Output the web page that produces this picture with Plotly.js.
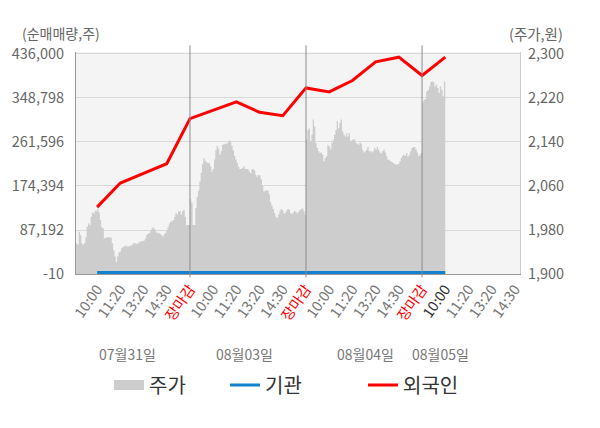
<!DOCTYPE html>
<html>
<head>
<meta charset="utf-8">
<script src="https://cdn.plot.ly/plotly-3.0.1.min.js"></script>
<style>
html,body{margin:0;padding:0;background:#fff;}
#chart{width:600px;height:428px;}
</style>
</head>
<body>
<div id="chart"></div>
<script>
// ---- data ----
const tickLabels = ['10:00','11:20','13:20','14:30','장마감',
                    '10:00','11:20','13:20','14:30','장마감',
                    '10:00','11:20','13:20','14:30','장마감',
                    '10:00','11:20','13:20','14:30'];
const dateLabels = ['07월31일','08월03일','08월04일','08월05일'];

// 주가 (price, won) intraday samples, one array per day
const priceDay1 = [1956,1953,1977,1971,1956,1953,1956,1967,1986,1992,1989,2004,2012,2010,2015,2014,2018,2012,1998,1985,
                   1983,1965,1966,1967,1967,1967,1966,1956,1943,1932,1922,1932,1939,1941,1947,1949,1950,1952,1950,1950,
                   1951,1952,1953,1956,1956,1955,1955,1957,1959,1959,1960,1961,1965,1971,1973,1975,1979,1983,1985,1981,
                   1977,1974,1975,1973,1971,1968,1972,1974,1978,1985,1992,1995,1996,1998,2004,2011,2008,2014,2014,2008,
                   2014,2017,2004,1989,1989,1989];
const priceDay2 = [2036,2029,1989,1989,2020,2040,2052,2068,2084,2100,2110,2106,2103,2102,2102,2096,2086,2091,2108,2125,
                   2133,2128,2117,2123,2135,2136,2137,2137,2139,2143,2141,2133,2125,2115,2108,2102,2095,2091,2091,2093,
                   2096,2091,2091,2091,2087,2083,2090,2091,2088,2080,2077,2080,2079,2072,2060,2050,2052,2052,2052,2045,
                   2030,2024,2018,2011,2004,2002,2008,2014,2018,2016,2010,2011,2015,2018,2017,2011,2009,2012,2015,2013,
                   2010,2013,2016,2018,2019,2014,2008];
const priceDay3 = [2144,2162,2165,2141,2153,2181,2168,2138,2129,2123,2120,2121,2117,2105,2111,2114,2135,2132,2127,2138,
                   2144,2153,2162,2178,2165,2175,2181,2159,2153,2150,2156,2150,2156,2141,2143,2145,2144,2138,2137,2135,
                   2139,2137,2126,2121,2123,2126,2131,2123,2123,2121,2123,2129,2126,2131,2126,2121,2119,2123,2126,2121,
                   2114,2108,2107,2105,2103,2102,2100,2099,2099,2100,2105,2111,2115,2117,2115,2120,2113,2117,2123,2129,
                   2131,2131,2127,2121,2114,2117,2120];
const priceDay4 = [2212,2216,2218,2232,2234,2241,2249,2250,2249,2241,2244,2238,2229,2241,2235,2223,2250];

// 외국인 / 기관 cumulative net buying (shares) at each tick
const foreign = [132500,180200,199200,218500,307900,
                 323800,341000,320400,313800,368800,
                 360900,383400,420500,429700,393300,
                 429700];
const inst = [2800,2800,2800,2800,2800,2800,2800,2800,2800,2800,2800,2800,2800,2800,2800,2800];

// axis ticks
const volTicks = [-10, 87192, 174394, 261596, 348798, 436000];
const priceTicks = [1900, 1980, 2060, 2140, 2220, 2300];

// ---- build ----
const dayStarts = [-0.91, 4, 9, 14];
const dayEnds   = [4, 9, 14, 15];
const priceDays = [priceDay1, priceDay2, priceDay3, priceDay4];
const px = [], py = [];
priceDays.forEach((arr, d) => {
  const span = dayEnds[d] - dayStarts[d];
  arr.forEach((v, i) => {
    px.push(dayStarts[d] + span * i / arr.length);
    py.push(v);
  });
  px.push(dayEnds[d]);
  py.push(arr[arr.length - 1]);
});
const tickIdx = tickLabels.map((_, i) => i);
const seriesX = foreign.map((_, i) => i);
const fmt = v => v.toLocaleString('en-US');

const ticktext = tickLabels.map((t, i) => {
  if (t === '장마감') return '<span style="color:#ff0000">' + t + '</span>';
  if (i === 15) return '<span style="color:#333333">' + t + '</span>';
  return t;
});

const FONT = '"Noto Sans CJK KR", "Noto Sans", sans-serif';

const traces = [
  { x: px, y: py, yaxis: 'y', type: 'scatter', mode: 'lines',
    line: { width: 0, shape: 'hv', color: '#cdcdcd' }, fill: 'tozeroy', fillcolor: '#cdcdcd',
    showlegend: false, hoverinfo: 'skip' },
  { x: [null], y: [null], yaxis: 'y2', type: 'scatter', mode: 'lines', name: '주가', legend: 'legend',
    line: { color: '#cdcdcd', width: 15 } },
  { x: seriesX, y: inst, yaxis: 'y2', type: 'scatter', mode: 'lines', name: '기관', legend: 'legend2',
    line: { color: '#1380d0', width: 3 } },
  { x: seriesX, y: foreign, yaxis: 'y2', type: 'scatter', mode: 'lines', name: '외국인', legend: 'legend3',
    line: { color: '#ff0000', width: 3 } }
];

const shapes = [4, 9, 14].map(v => ({
  type: 'line', xref: 'x', yref: 'paper', x0: v, x1: v, y0: -0.015, y1: 1.03,
  line: { color: '#8c8c8c', width: 1 }
}));

const dayCenters = [1.3, 6.35, 11.55, 14.8];
const annotations = dateLabels.map((t, i) => ({
  text: t, xref: 'x', yref: 'paper', x: dayCenters[i], y: -0.36, yanchor: 'middle',
  showarrow: false, font: { family: FONT, size: 14, color: '#777' }
}));
annotations.push({ text: '(순매매량,주)', xref: 'paper', yref: 'paper', x: -0.034, y: 1.085,
  xanchor: 'center', yanchor: 'middle', showarrow: false, font: { family: FONT, size: 14, color: '#666' } });
annotations.push({ text: '(주가,원)', xref: 'paper', yref: 'paper', x: 1.035, y: 1.085,
  xanchor: 'center', yanchor: 'middle', showarrow: false, font: { family: FONT, size: 14.5, color: '#666' } });

const legendBase = {
  orientation: 'h', xref: 'container', xanchor: 'left', y: -0.5, yanchor: 'middle',
  font: { family: FONT, size: 20, color: '#333' }, bgcolor: 'rgba(0,0,0,0)'
};

const layout = {
  width: 600, height: 428,
  margin: { l: 76, r: 80, t: 52, b: 154, autoexpand: false },
  paper_bgcolor: '#ffffff', plot_bgcolor: '#f4f4f4',
  font: { family: FONT, color: '#666' },
  xaxis: {
    range: [-0.91, 18.22], tickmode: 'array', tickvals: tickIdx, ticktext: ticktext,
    tickangle: -55, tickfont: { family: FONT, size: 14.5, color: '#777' },
    showgrid: false, zeroline: false, showline: true, linecolor: '#999', linewidth: 1,
    ticks: '', fixedrange: true
  },
  yaxis: {
    side: 'right', range: [1900, 2303.6], tickmode: 'array', tickvals: priceTicks, ticktext: priceTicks.map(fmt),
    tickfont: { family: FONT, size: 14.5, color: '#666' }, ticklabelstandoff: 4,
    showgrid: true, gridcolor: '#d9d9d9', gridwidth: 1, zeroline: false,
    showline: true, linecolor: '#ccc', linewidth: 1, ticks: '', fixedrange: true
  },
  yaxis2: {
    overlaying: 'y', side: 'left', range: [-10, 439964], tickmode: 'array', tickvals: volTicks, ticktext: volTicks.map(fmt),
    tickfont: { family: FONT, size: 14.5, color: '#666' }, ticklabelstandoff: 8,
    showgrid: false, zeroline: false,
    showline: true, linecolor: '#999', linewidth: 1, ticks: '', fixedrange: true
  },
  shapes: shapes,
  annotations: annotations,
  showlegend: true,
  legend:  Object.assign({}, legendBase, { x: 109 / 600 }),
  legend2: Object.assign({}, legendBase, { x: 225 / 600 }),
  legend3: Object.assign({}, legendBase, { x: 363 / 600 })
};

Plotly.newPlot('chart', traces, layout, { displayModeBar: false, staticPlot: true });
</script>
</body>
</html>
